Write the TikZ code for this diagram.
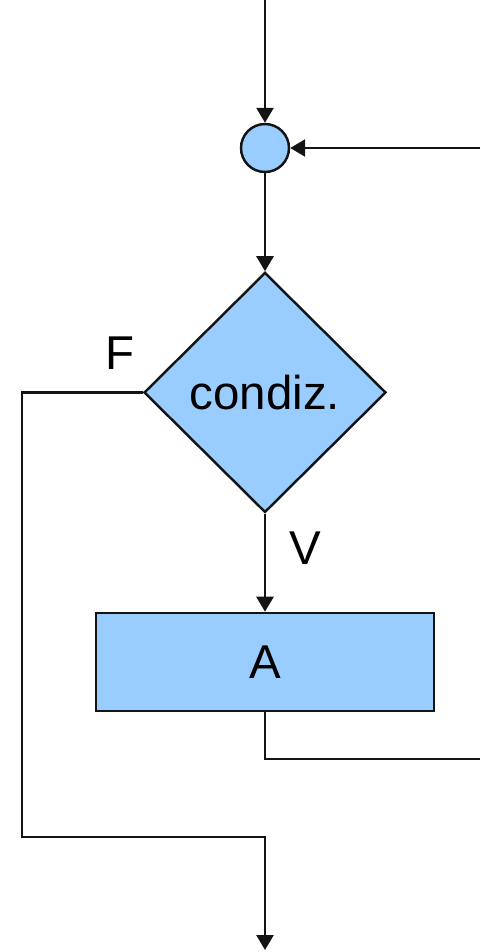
\documentclass[tikz,border=0pt]{standalone}
\usepackage{fontspec}
\setmainfont{Liberation Sans}
\usepackage{xcolor}
\usepackage{tikz}
\usetikzlibrary{positioning, arrows.meta, shapes.geometric}
\definecolor{fc-blue}{RGB}{153,204,255}
\definecolor{fc-line}{RGB}{20,20,20}
\tikzset{
  fc@join/.style={
    circle, draw=fc-line, fill=fc-blue, line width=1.4pt,
    minimum size=0.96cm, inner sep=0pt
  },
  fc@cond/.style={
    diamond, draw=fc-line, fill=fc-blue, line width=1.4pt,
    minimum width=4.84cm, minimum height=4.8cm, inner sep=0pt,
    font=\fontsize{27}{32}\selectfont
  },
  fc@block/.style={
    rectangle, draw=fc-line, fill=fc-blue, line width=1.4pt,
    minimum width=6.76cm, minimum height=1.96cm,
    font=\fontsize{27}{32}\selectfont
  },
  fc@arr/.style={-{Triangle[length=0.3cm, width=0.34cm]}, line width=1.5pt, fc-line},
  fc@line/.style={line width=1.5pt, fc-line},
  fc@lbl/.style={font=\fontsize{27}{32}\selectfont, inner sep=0pt},
}
\begin{document}
\begin{tikzpicture}[node distance=1.96cm]
  \useasboundingbox (0,0) rectangle (9.6,-19.04);
  \coordinate (start) at (5.3,0);
  \coordinate (back)  at (9.6,-2.96);
  \coordinate (ret)   at (9.6,-15.18);
  \coordinate (fcorner) at (0.44,-16.74);
  \coordinate (exit)  at (5.3,-19.0);
  \node[fc@join] (jn) at (5.3,-2.96) {};
  \node[fc@cond, below=of jn] (cond) {condiz.};
  \node[fc@block, below=of cond] (body) {A};
  \node[fc@lbl] (flbl) at (2.4,-7.06) {F};
  \node[fc@lbl] (vlbl) at (6.1,-10.96) {V};
  \draw[fc@arr] (start) -- (jn);
  \draw[fc@arr] (back) -- (jn);
  \draw[fc@arr] (jn) -- (cond);
  \draw[fc@arr] (cond) -- (body);
  \draw[fc@line] (body.south) |- (ret);
  \draw[fc@arr] (cond.west) -| (fcorner) -| (exit);
\end{tikzpicture}
\end{document}
